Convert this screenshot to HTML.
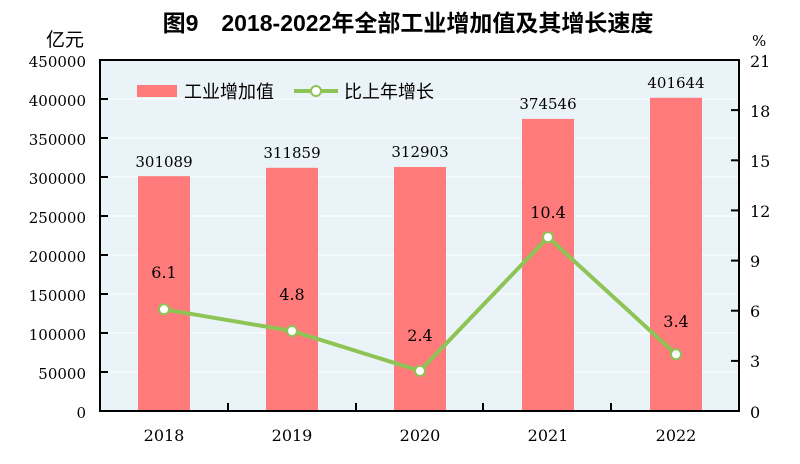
<!DOCTYPE html>
<html><head><meta charset="utf-8"><style>
body{margin:0;background:#fff;}
text{font-family:"DejaVu Serif","Noto Serif CJK SC",serif;}
</style></head><body>
<svg width="800" height="459" xmlns="http://www.w3.org/2000/svg">
<rect width="800" height="459" fill="#fff"/>
<text x="408" y="31" text-anchor="middle" font-size="23" font-weight="bold" style="font-family:'Liberation Sans','Noto Sans CJK SC',sans-serif">图9　2018-2022年全部工业增加值及其增长速度</text>
<rect x="100" y="60" width="639" height="351" fill="#eaf3f7"/>
<g stroke="#fff" stroke-width="1">
<line x1="100" y1="99" x2="739" y2="99"/><line x1="100" y1="138" x2="739" y2="138"/><line x1="100" y1="177" x2="739" y2="177"/><line x1="100" y1="216" x2="739" y2="216"/><line x1="100" y1="255" x2="739" y2="255"/><line x1="100" y1="294" x2="739" y2="294"/><line x1="100" y1="333" x2="739" y2="333"/><line x1="100" y1="372" x2="739" y2="372"/>
</g>
<g fill="#ff7a7a">
<rect x="138" y="176.2" width="52" height="234.8"/>
<rect x="266" y="167.8" width="52" height="243.2"/>
<rect x="394" y="167.0" width="52" height="244"/>
<rect x="522" y="118.9" width="52" height="292.1"/>
<rect x="650" y="97.8" width="52" height="313.2"/>
</g>
<rect x="100" y="60" width="639" height="351" fill="none" stroke="#000" stroke-width="2"/>
<g stroke="#000" stroke-width="2">
<line x1="100" y1="99" x2="108" y2="99"/><line x1="100" y1="138" x2="108" y2="138"/><line x1="100" y1="177" x2="108" y2="177"/><line x1="100" y1="216" x2="108" y2="216"/><line x1="100" y1="255" x2="108" y2="255"/><line x1="100" y1="294" x2="108" y2="294"/><line x1="100" y1="333" x2="108" y2="333"/><line x1="100" y1="372" x2="108" y2="372"/>
<line x1="731" y1="110.1" x2="739" y2="110.1"/><line x1="731" y1="160.3" x2="739" y2="160.3"/><line x1="731" y1="210.4" x2="739" y2="210.4"/><line x1="731" y1="260.6" x2="739" y2="260.6"/><line x1="731" y1="310.7" x2="739" y2="310.7"/><line x1="731" y1="360.9" x2="739" y2="360.9"/>
<line x1="228" y1="403" x2="228" y2="411"/><line x1="356" y1="403" x2="356" y2="411"/><line x1="483" y1="403" x2="483" y2="411"/><line x1="611" y1="403" x2="611" y2="411"/>
</g>
<g font-size="15" text-anchor="end">
<text x="86" y="67">450000</text><text x="86" y="106">400000</text><text x="86" y="145">350000</text><text x="86" y="184">300000</text><text x="86" y="223">250000</text><text x="86" y="262">200000</text><text x="86" y="301">150000</text><text x="86" y="340">100000</text><text x="86" y="379">50000</text><text x="86" y="418">0</text>
</g>
<text x="84" y="46" font-size="19" text-anchor="end" style="font-family:'Liberation Sans','Noto Sans CJK SC',sans-serif">亿元</text>
<text x="752" y="46" font-size="15">%</text>
<g font-size="16">
<text x="750" y="67">21</text><text x="750" y="117">18</text><text x="750" y="167">15</text><text x="750" y="217">12</text><text x="750" y="267">9</text><text x="750" y="317">6</text><text x="750" y="367">3</text><text x="750" y="418">0</text>
</g>
<g font-size="16" text-anchor="middle">
<text x="164" y="441">2018</text><text x="292" y="441">2019</text><text x="420" y="441">2020</text><text x="548" y="441">2021</text><text x="676" y="441">2022</text>
<g font-size="15"><text x="164" y="167">301089</text><text x="292" y="158">311859</text><text x="420" y="157">312903</text><text x="548" y="109">374546</text><text x="676" y="88">401644</text></g>
<text x="164" y="278">6.1</text><text x="292" y="300">4.8</text><text x="420" y="341">2.4</text><text x="548" y="218">10.4</text><text x="676" y="327">3.4</text>
</g>
<polyline points="164,309.3 292,331 420,370.9 548,237.2 676,354.3" fill="none" stroke="#8dc455" stroke-width="4"/>
<g fill="#fff" stroke="#8dc455" stroke-width="2">
<circle cx="164" cy="309.3" r="5"/><circle cx="292" cy="331" r="5"/><circle cx="420" cy="370.9" r="5"/><circle cx="548" cy="237.2" r="5"/><circle cx="676" cy="354.3" r="5"/>
</g>
<rect x="137" y="85" width="40" height="12" fill="#ff7a7a"/>
<text x="184" y="98" font-size="18" style="font-family:'Liberation Sans','Noto Sans CJK SC',sans-serif">工业增加值</text>
<line x1="294" y1="91" x2="338" y2="91" stroke="#8dc455" stroke-width="4"/>
<circle cx="316" cy="91" r="5" fill="#fff" stroke="#8dc455" stroke-width="2"/>
<text x="344" y="98" font-size="18" style="font-family:'Liberation Sans','Noto Sans CJK SC',sans-serif">比上年增长</text>
</svg>
</body></html>
